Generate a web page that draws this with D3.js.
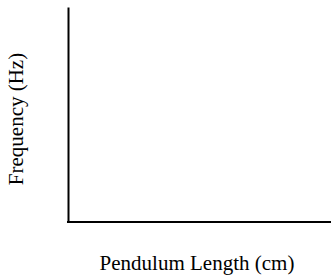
<!DOCTYPE html>
<html>
<head>
<meta charset="utf-8">
<script src="https://cdn.jsdelivr.net/npm/d3@7"></script>
<style>
  html, body { margin: 0; padding: 0; background: #fff; }
  text { font-family: "Liberation Serif", "Times New Roman", serif; fill: #000; }
</style>
</head>
<body>
<div id="chart"></div>
<script>
// axis titles, no data plotted
const xLabel = 'Pendulum Length (cm)';
const yLabel = 'Frequency (Hz)';
const xDomain = [0, 1];
const yDomain = [0, 1];

document.addEventListener('DOMContentLoaded', function(){
  drawChart();
});

function drawChart() {
  const width = 331, height = 277;
  let margin = {left: 68, top: 7, right: 0, bottom: 55};

  let svg = d3.select('#chart').append('svg')
    .attr('width', width)
    .attr('height', height);

  let x = d3.scaleLinear().domain(xDomain).range([margin.left, width - margin.right]);
  let y = d3.scaleLinear().domain(yDomain).range([height - margin.bottom, margin.top]);

  // axes without ticks
  let xAx = d3.axisBottom(x).tickValues([]).tickSizeOuter(0);
  let yAx = d3.axisLeft(y).tickValues([]).tickSizeOuter(0);

  svg.append('g').attr('transform', 'translate(0,' + (height - margin.bottom) + ')').call(xAx)
    .select('.domain').attr('stroke', '#000').attr('stroke-width', 2).attr('d', 'M' + (margin.left - 1) + ',0H' + width);
  svg.append('g').attr('transform', 'translate(' + margin.left + ',0)').call(yAx)
    .select('.domain').attr('stroke', '#000').attr('stroke-width', 2);

  // labels
  svg.append('text')
    .attr('x', 197).attr('y', 270)
    .attr('text-anchor', 'middle')
    .style('font-size', '21px')
    .text(xLabel);

  svg.append('text')
    .attr('transform', 'translate(22.5,119) rotate(-90)')
    .attr('text-anchor', 'middle')
    .style('font-size', '21px')
    .text(yLabel);
}
</script>
</body>
</html>
